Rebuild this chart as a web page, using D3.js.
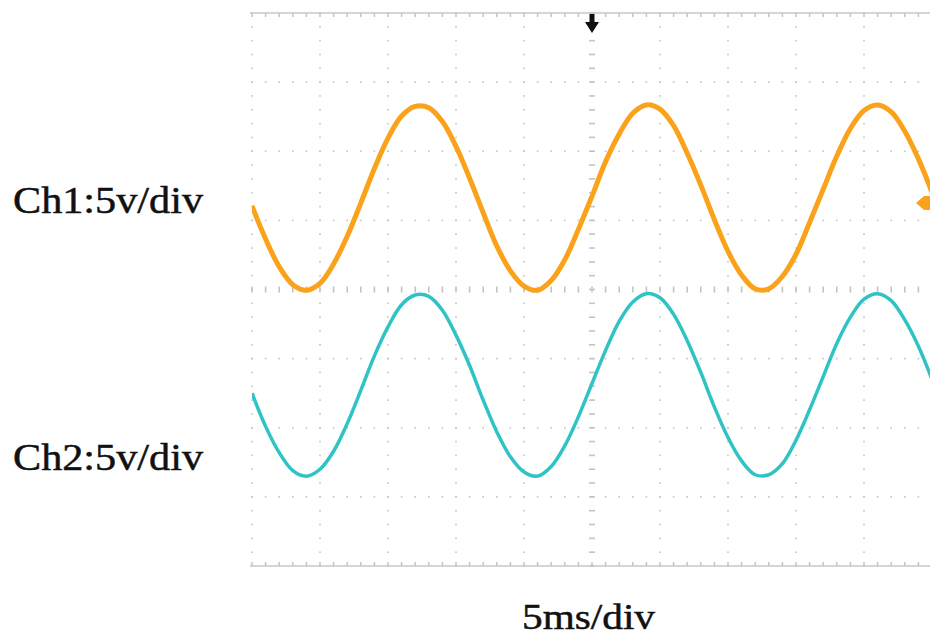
<!DOCTYPE html>
<html>
<head>
<meta charset="utf-8">
<script src="https://cdn.jsdelivr.net/npm/d3@7"></script>
<style>
  body { margin: 0; background: #fff; }
  .label { font-family: "Liberation Serif", "Times New Roman", serif; fill: #111; stroke: #111; stroke-width: 0.5; }
</style>
</head>
<body>
<div id="scope"></div>
<script>
// time in ms (5 ms/div), values in volts (5 V/div)
var timeMs = d3.range(0, 51, 1);

var ch1Volts = [-0.2, -2.6, -4.6, -5.9, -6.3, -5.8, -4.4, -2.4, 0.0, 2.5,
  4.7, 6.3, 7.0, 6.9, 5.9, 4.1, 1.8, -0.7, -3.1, -4.9,
  -6.0, -6.3, -5.6, -4.1, -1.9, 0.5, 3.0, 5.0, 6.5, 7.1,
  6.8, 5.6, 3.6, 1.3, -1.2, -3.5, -5.2, -6.2, -6.2, -5.3,
  -3.7, -1.4, 1.0, 3.4, 5.4, 6.7, 7.1, 6.6, 5.2, 3.2, 0.8];

var ch2Volts = [-0.5, -2.9, -4.8, -6.1, -6.5, -6.0, -4.7, -2.7, -0.3, 2.2,
  4.3, 5.9, 6.6, 6.5, 5.5, 3.7, 1.5, -1.0, -3.3, -5.1,
  -6.2, -6.5, -5.8, -4.3, -2.2, 0.2, 2.6, 4.7, 6.1, 6.7,
  6.4, 5.2, 3.3, 1.0, -1.5, -3.7, -5.4, -6.4, -6.4, -5.6,
  -3.9, -1.7, 0.7, 3.1, 5.0, 6.3, 6.7, 6.2, 4.8, 2.9, 0.5];

// channel ground offsets, in divisions
var ch1Offset = 1.25;
var ch2Offset = -1.4;

var channelLabels = ["Ch1:5v/div", "Ch2:5v/div"];
var timeLabel = "5ms/div";

var svgWidth = 930;
var svgHeight = 638;

var screen = { left: 252, right: 932, top: 13, bottom: 566 };

var svg = d3.select("#scope")
  .append("svg")
  .attr("width", svgWidth)
  .attr("height", svgHeight);

var xScale = d3.scaleLinear()
  .domain([0, 50])
  .range([screen.left, screen.right]);

var yScale = d3.scaleLinear()
  .domain([-20, 20])
  .range([screen.bottom, screen.top]);

var majorX = d3.range(0, 51, 5);
var majorY = d3.range(-20, 21, 5);
var minorX = d3.range(0, 50.01, 1);
var minorY = d3.range(-20, 20.01, 1);

var gridColor = "#c4c4c4";
var grid = svg.append("g");

// dotted vertical grid lines
majorX.forEach(function (mx) {
  var isCenter = mx === 25;
  grid.selectAll(null)
    .data(minorY)
    .enter()
    .append("rect")
    .attr("x", xScale(mx) - (isCenter ? 3 : 0.8))
    .attr("y", d => yScale(d) - 0.8)
    .attr("width", isCenter ? 6 : 1.6)
    .attr("height", 1.6)
    .attr("fill", gridColor);
});

// dotted horizontal grid lines
majorY.forEach(function (my) {
  if (my === 20 || my === -20) return;
  var isCenter = my === 0;
  grid.selectAll(null)
    .data(minorX)
    .enter()
    .append("rect")
    .attr("x", d => xScale(d) - 0.8)
    .attr("y", yScale(my) - (isCenter ? 3 : 0.8))
    .attr("width", 1.6)
    .attr("height", isCenter ? 6 : 1.6)
    .attr("fill", gridColor);
});

// top and bottom borders with ticks
[20, -20].forEach(function (edge) {
  var y0 = yScale(edge);
  var dir = edge > 0 ? 1 : -1;
  grid.append("line")
    .attr("x1", screen.left - 2)
    .attr("x2", svgWidth)
    .attr("y1", y0)
    .attr("y2", y0)
    .attr("stroke", "#c8c8c8")
    .attr("stroke-width", 1.5);
  grid.selectAll(null)
    .data(minorX)
    .enter()
    .append("line")
    .attr("x1", d => xScale(d))
    .attr("x2", d => xScale(d))
    .attr("y1", y0)
    .attr("y2", y0 + dir * 4)
    .attr("stroke", gridColor)
    .attr("stroke-width", 1.5);
});

svg.append("clipPath")
  .attr("id", "screenClip")
  .append("rect")
  .attr("x", screen.left)
  .attr("y", screen.top)
  .attr("width", screen.right - screen.left)
  .attr("height", screen.bottom - screen.top);

var traces = svg.append("g").attr("clip-path", "url(#screenClip)");

function traceLine(values, offset) {
  return d3.line()
    .x((d, i) => xScale(timeMs[i]))
    .y(d => yScale(d + offset * 5))
    .curve(d3.curveCatmullRom)(values);
}

traces.append("path")
  .attr("d", traceLine(ch1Volts, ch1Offset))
  .attr("fill", "none")
  .attr("stroke", "#f9a21a")
  .attr("stroke-width", 5)
  .attr("stroke-linejoin", "round");

traces.append("path")
  .attr("d", traceLine(ch2Volts, ch2Offset))
  .attr("fill", "none")
  .attr("stroke", "#2fc3c5")
  .attr("stroke-width", 3.5)
  .attr("stroke-linejoin", "round");

// trigger position marker
var tx = xScale(25);
svg.append("path")
  .attr("d", `M${tx - 2.5},14 H${tx + 2.5} V22 H${tx + 7} L${tx},33 L${tx - 7},22 H${tx - 2.5} Z`)
  .attr("fill", "#111");

// ch1 ground marker on the right edge
var gy = yScale(ch1Offset * 5);
svg.append("path")
  .attr("d", `M${svgWidth - 14},${gy} L${svgWidth - 6},${gy - 7} H${svgWidth} V${gy + 7} H${svgWidth - 6} Z`)
  .attr("fill", "#f9a21a");

// labels
svg.selectAll(".chLabel")
  .data(channelLabels)
  .enter()
  .append("text")
  .attr("class", "label chLabel")
  .attr("x", 13)
  .attr("y", (d, i) => i === 0 ? 213 : 470)
  .attr("font-size", 38)
  .attr("textLength", 190)
  .attr("lengthAdjust", "spacingAndGlyphs")
  .text(d => d);

svg.append("text")
  .attr("class", "label")
  .attr("x", 522)
  .attr("y", 629)
  .attr("font-size", 36)
  .attr("textLength", 133)
  .attr("lengthAdjust", "spacingAndGlyphs")
  .text(timeLabel);
</script>
</body>
</html>
